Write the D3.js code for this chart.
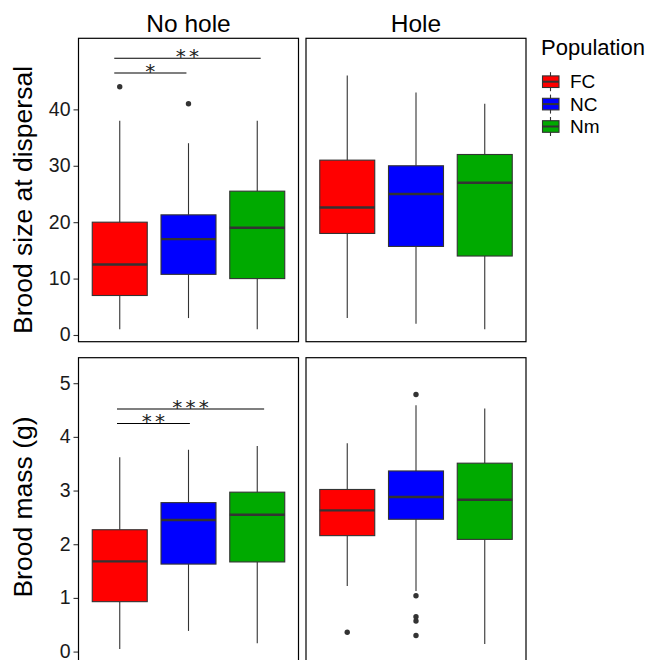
<!DOCTYPE html>
<html>
<head>
<meta charset="utf-8">
<script src="https://cdn.jsdelivr.net/npm/d3@7"></script>
<style>
  body { margin: 0; background: #fff; }
  svg { display: block; font-family: "Liberation Sans", Arial, sans-serif; }
</style>
</head>
<body>
<svg id="svg" width="651" height="660"></svg>
<script>
// groups and facets
const populations = ["FC", "NC", "Nm"];
const facets = ["No hole", "Hole"];

// box stats per population: [lower whisker, Q1, median, Q3, upper whisker]
const sizeNoHole = [[1, 7, 12.5, 20, 38], [3, 10.75, 17, 21.3, 34], [1, 10, 19, 25.5, 38]];
const sizeHole   = [[3, 18, 22.6, 31, 46], [2, 15.7, 25, 30, 43], [1, 14, 27, 32, 41]];
const massNoHole = [[0.05, 0.93, 1.68, 2.27, 3.62], [0.385, 1.63, 2.45, 2.775, 3.76], [0.155, 1.67, 2.55, 2.97, 3.83]];
const massHole   = [[1.22, 2.16, 2.63, 3.02, 3.88], [1.13, 2.465, 2.88, 3.365, 4.59], [0.14, 2.09, 2.83, 3.51, 4.53]];

// outliers
const sizeNoHoleOut = [[44], [41], []];
const sizeHoleOut   = [[], [], []];
const massNoHoleOut = [[], [], []];
const massHoleOut   = [[0.36], [4.79, 1.04, 0.65, 0.57, 0.30], []];

// significance brackets (group positions, height, label) - "No hole" only
const sizeSig = [{from: 0.92, to: 1.97, y: 46.45, label: "*"}, {from: 0.92, to: 3.05, y: 49.06, label: "**"}];
const massSig = [{from: 0.96, to: 2.02, y: 4.25, label: "**"}, {from: 0.96, to: 3.10, y: 4.52, label: "***"}];

const sizeTicks = [0, 10, 20, 30, 40];
const massTicks = [0, 1, 2, 3, 4, 5];

const colors = {FC: "#FF0000", NC: "#0000FF", Nm: "#00AA00"};

const svg = d3.select("#svg");

// layout
const cols = [[78.5, 298.5], [306, 526]];
const rows = [
  {title: "Brood size at dispersal", range: [341.7, 38.3], domain: [-1.19, 52.6], ticks: sizeTicks,
   stats: [sizeNoHole, sizeHole], outs: [sizeNoHoleOut, sizeHoleOut], sig: sizeSig, titleY: 200},
  {title: "Brood mass (g)", range: [665, 357.7], domain: [-0.25, 5.475], ticks: massTicks,
   stats: [massNoHole, massHole], outs: [massNoHoleOut, massHoleOut], sig: massSig, titleY: 507}
];
const boxW = 0.8;
const starGap = 3.2;

rows.forEach((row, ri) => {
  const y = d3.scaleLinear().domain(row.domain).range(row.range);

  // y axis title
  svg.append("text")
     .attr("transform", `translate(32,${row.titleY}) rotate(-90)`)
     .attr("text-anchor", "middle")
     .style("font-size", "26.5px")
     .style("fill", "#000")
     .text(row.title);

  // y axis (left column only)
  const ax = svg.append("g")
     .attr("transform", `translate(${cols[0][0]},0)`)
     .call(d3.axisLeft(y).tickValues(row.ticks).tickFormat(d3.format("d")).tickSize(5).tickPadding(3));
  ax.select(".domain").remove();
  ax.selectAll(".tick line").attr("stroke", "#333").attr("stroke-width", 1.1);
  ax.selectAll(".tick text").style("font-size", "19.5px").style("fill", "#1a1a1a")
    .attr("dy", "0.3em")
    .style("font-family", "'Liberation Sans', Arial, sans-serif");

  cols.forEach((c, ci) => {
    const x = d3.scaleLinear().domain([0.4, 3.6]).range(c);
    const g = svg.append("g");

    // strip titles on top row
    if (ri === 0) {
      svg.append("text")
         .attr("x", (c[0] + c[1]) / 2)
         .attr("y", 32)
         .attr("text-anchor", "middle")
         .style("font-size", "24.5px")
         .style("fill", "#000")
         .text(facets[ci]);
    }

    const stats = row.stats[ci];
    const outs = row.outs[ci];

    populations.forEach((p, i) => {
      const s = stats[i];
      const cx = x(i + 1);
      const x0 = x(i + 1 - boxW / 2), x1 = x(i + 1 + boxW / 2);

      // whiskers
      g.append("line").attr("x1", cx).attr("x2", cx).attr("y1", y(s[0])).attr("y2", y(s[1]))
       .attr("stroke", "#333").attr("stroke-width", 1.1);
      g.append("line").attr("x1", cx).attr("x2", cx).attr("y1", y(s[3])).attr("y2", y(s[4]))
       .attr("stroke", "#333").attr("stroke-width", 1.1);

      // box
      g.append("rect")
       .attr("x", x0).attr("y", y(s[3]))
       .attr("width", x1 - x0).attr("height", y(s[1]) - y(s[3]))
       .attr("fill", colors[p]).attr("stroke", "#333").attr("stroke-width", 1.1);

      // median
      g.append("line").attr("x1", x0).attr("x2", x1).attr("y1", y(s[2])).attr("y2", y(s[2]))
       .attr("stroke", "#333").attr("stroke-width", 2.4);

      // outliers
      g.selectAll(null).data(outs[i]).enter().append("circle")
       .attr("cx", cx).attr("cy", d => y(d)).attr("r", 2.7).attr("fill", "#333");
    });

    // significance brackets
    if (ci === 0) {
      row.sig.forEach(d => {
        g.append("line").attr("x1", x(d.from)).attr("x2", x(d.to))
         .attr("y1", y(d.y)).attr("y2", y(d.y))
         .attr("stroke", "#000").attr("stroke-width", 1.1);
        g.append("text")
         .attr("x", (x(d.from) + x(d.to)) / 2 + starGap / 2)
         .attr("y", y(d.y) + 5)
         .attr("text-anchor", "middle")
         .style("font-family", "'DejaVu Sans', sans-serif")
         .style("font-size", "20px")
         .style("letter-spacing", starGap + "px")
         .style("fill", "#222")
         .text(d.label);
      });
    }

    // panel border
    svg.append("rect")
       .attr("x", c[0]).attr("y", row.range[1])
       .attr("width", c[1] - c[0]).attr("height", row.range[0] - row.range[1])
       .attr("fill", "none").attr("stroke", "#000").attr("stroke-width", 1.2);
  });
});

// legend
const leg = svg.append("g").attr("transform", "translate(541,0)");
leg.append("text").attr("x", 0).attr("y", 55)
   .style("font-size", "22px").style("fill", "#000").text("Population");

const keyY = d3.scalePoint().domain(populations).range([81.7, 126.5]);
populations.forEach(p => {
  const cy = keyY(p);
  const k = leg.append("g").attr("transform", `translate(1,${cy})`);
  k.append("line").attr("x1", 8.5).attr("x2", 8.5).attr("y1", -9.5).attr("y2", 9.5)
   .attr("stroke", "#333").attr("stroke-width", 1.1);
  k.append("rect").attr("x", 0.5).attr("y", -5.8).attr("width", 16.5).attr("height", 11.6)
   .attr("fill", colors[p]).attr("stroke", "#333").attr("stroke-width", 1.1);
  k.append("line").attr("x1", 0.5).attr("x2", 17).attr("y1", 0).attr("y2", 0)
   .attr("stroke", "#333").attr("stroke-width", 2);
  leg.append("text").attr("x", 29).attr("y", cy + 6.5)
     .style("font-size", "19px").style("fill", "#000").text(p);
});
</script>
</body>
</html>
